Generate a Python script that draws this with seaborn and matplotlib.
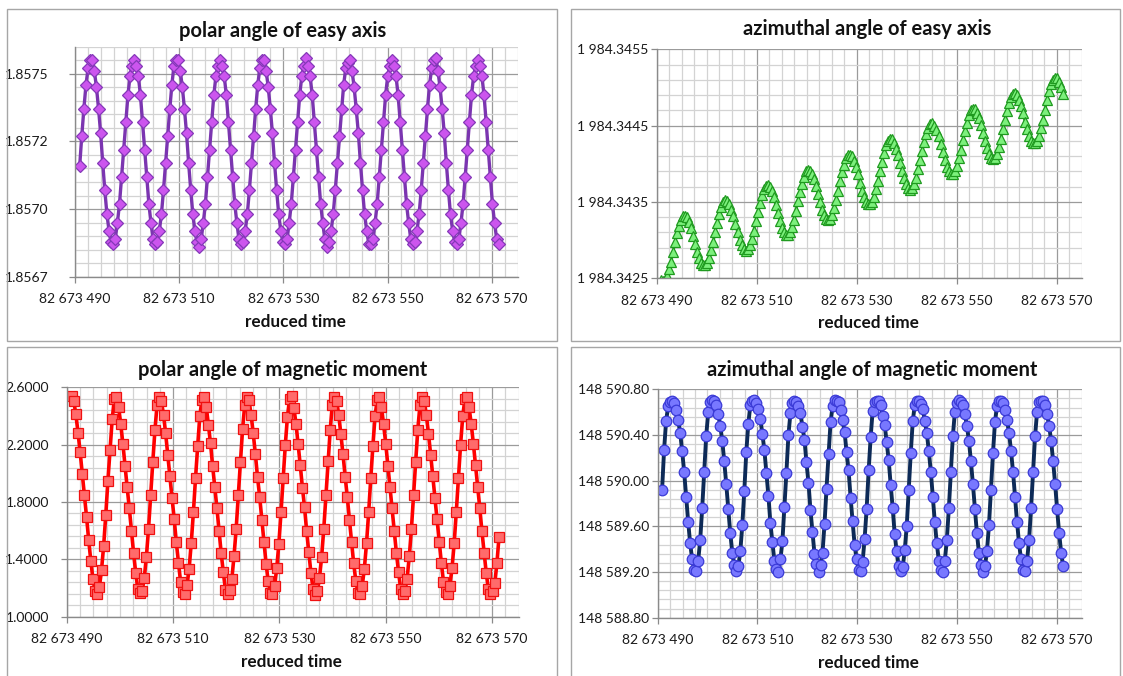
import numpy as np
import matplotlib
matplotlib.use("Agg")
import matplotlib.pyplot as plt
import seaborn as sns
from matplotlib.patches import Rectangle
from matplotlib.ticker import FixedLocator

# 主题与字体
sns.set_theme(style="white")
plt.rcParams['font.family'] = ['Lato', 'DejaVu Sans']

# 时间轴 (reduced time = 82 673 000 + offset)
T0 = 82673000
time_offset = [
    490.90, 491.30, 491.70, 492.11, 492.51, 492.91, 493.31, 493.71, 494.12, 494.52,
    494.92, 495.32, 495.72, 496.13, 496.53, 496.93, 497.33, 497.73, 498.14, 498.54,
    498.94, 499.34, 499.74, 500.15, 500.55, 500.95, 501.35, 501.75, 502.16, 502.56,
    502.96, 503.36, 503.76, 504.17, 504.57, 504.97, 505.37, 505.77, 506.18, 506.58,
    506.98, 507.38, 507.78, 508.19, 508.59, 508.99, 509.39, 509.79, 510.20, 510.60,
    511.00, 511.40, 511.80, 512.21, 512.61, 513.01, 513.41, 513.81, 514.22, 514.62,
    515.02, 515.42, 515.82, 516.23, 516.63, 517.03, 517.43, 517.83, 518.24, 518.64,
    519.04, 519.44, 519.84, 520.25, 520.65, 521.05, 521.45, 521.85, 522.26, 522.66,
    523.06, 523.46, 523.86, 524.27, 524.67, 525.07, 525.47, 525.87, 526.28, 526.68,
    527.08, 527.48, 527.88, 528.29, 528.69, 529.09, 529.49, 529.89, 530.30, 530.70,
    531.10, 531.50, 531.90, 532.31, 532.71, 533.11, 533.51, 533.91, 534.32, 534.72,
    535.12, 535.52, 535.92, 536.33, 536.73, 537.13, 537.53, 537.93, 538.34, 538.74,
    539.14, 539.54, 539.94, 540.35, 540.75, 541.15, 541.55, 541.95, 542.36, 542.76,
    543.16, 543.56, 543.96, 544.37, 544.77, 545.17, 545.57, 545.97, 546.38, 546.78,
    547.18, 547.58, 547.98, 548.39, 548.79, 549.19, 549.59, 549.99, 550.40, 550.80,
    551.20, 551.60, 552.00, 552.41, 552.81, 553.21, 553.61, 554.01, 554.42, 554.82,
    555.22, 555.62, 556.02, 556.43, 556.83, 557.23, 557.63, 558.03, 558.44, 558.84,
    559.24, 559.64, 560.04, 560.45, 560.85, 561.25, 561.65, 562.05, 562.46, 562.86,
    563.26, 563.66, 564.06, 564.47, 564.87, 565.27, 565.67, 566.07, 566.48, 566.88,
    567.28, 567.68, 568.08, 568.49, 568.89, 569.29, 569.69, 570.09, 570.50, 570.90,
    571.30,
]

# polar angle of easy axis
polar_easy = [
    1.85711, 1.85722, 1.85732, 1.85741, 1.85747, 1.85750, 1.85750, 1.85746, 1.85740, 1.85732,
    1.85723, 1.85712, 1.85702, 1.85693, 1.85687, 1.85683, 1.85682, 1.85684, 1.85690, 1.85697,
    1.85707, 1.85717, 1.85727, 1.85737, 1.85744, 1.85748, 1.85750, 1.85748, 1.85744, 1.85737,
    1.85727, 1.85717, 1.85707, 1.85697, 1.85690, 1.85684, 1.85682, 1.85683, 1.85687, 1.85693,
    1.85702,
    1.85712, 1.85722, 1.85732, 1.85741, 1.85748, 1.85750, 1.85750, 1.85746, 1.85740, 1.85732,
    1.85723, 1.85712, 1.85702, 1.85693, 1.85687, 1.85683, 1.85681, 1.85684, 1.85690, 1.85697,
    1.85707, 1.85717, 1.85727, 1.85737, 1.85744, 1.85748, 1.85750, 1.85748, 1.85744, 1.85737,
    1.85727, 1.85717, 1.85707, 1.85697, 1.85690, 1.85684, 1.85682, 1.85683, 1.85687, 1.85693,
    1.85702,
    1.85712, 1.85722, 1.85732, 1.85741, 1.85747, 1.85750, 1.85750, 1.85746, 1.85740, 1.85732,
    1.85723, 1.85712, 1.85702, 1.85693, 1.85687, 1.85683, 1.85682, 1.85684, 1.85690, 1.85697,
    1.85707, 1.85717, 1.85727, 1.85737, 1.85744, 1.85748, 1.85751, 1.85748, 1.85744, 1.85737,
    1.85727, 1.85717, 1.85707, 1.85697, 1.85690, 1.85684, 1.85681, 1.85683, 1.85687, 1.85693,
    1.85702,
    1.85712, 1.85722, 1.85732, 1.85741, 1.85747, 1.85749, 1.85750, 1.85746, 1.85740, 1.85732,
    1.85723, 1.85712, 1.85702, 1.85693, 1.85687, 1.85682, 1.85682, 1.85684, 1.85690, 1.85697,
    1.85707, 1.85717, 1.85727, 1.85737, 1.85744, 1.85748, 1.85750, 1.85748, 1.85744, 1.85737,
    1.85727, 1.85717, 1.85707, 1.85697, 1.85690, 1.85684, 1.85682, 1.85683, 1.85687, 1.85693,
    1.85702,
    1.85712, 1.85722, 1.85732, 1.85741, 1.85747, 1.85750, 1.85751, 1.85746, 1.85740, 1.85732,
    1.85723, 1.85712, 1.85702, 1.85693, 1.85687, 1.85683, 1.85682, 1.85684, 1.85690, 1.85697,
    1.85707, 1.85717, 1.85727, 1.85737, 1.85744, 1.85748, 1.85750, 1.85748, 1.85744, 1.85737,
    1.85727, 1.85717, 1.85707, 1.85697, 1.85690, 1.85684, 1.85682,
]

# azimuthal angle of easy axis
azimuth_easy = [
    1984.34248, 1984.34246, 1984.34248, 1984.34253, 1984.34262, 1984.34272, 1984.34285, 1984.34297, 1984.34309, 1984.34319,
    1984.34327, 1984.34331, 1984.34332, 1984.34330, 1984.34324, 1984.34316, 1984.34306, 1984.34295, 1984.34285, 1984.34276,
    1984.34270, 1984.34267, 1984.34267, 1984.34270, 1984.34277, 1984.34287, 1984.34298, 1984.34311, 1984.34323, 1984.34334,
    1984.34343, 1984.34350, 1984.34352, 1984.34351, 1984.34347, 1984.34340, 1984.34331, 1984.34321, 1984.34310, 1984.34300,
    1984.34293, 1984.34288, 1984.34286, 1984.34288, 1984.34293, 1984.34302, 1984.34312, 1984.34325, 1984.34337, 1984.34349,
    1984.34359, 1984.34367, 1984.34371, 1984.34372, 1984.34370, 1984.34364, 1984.34356, 1984.34346, 1984.34335, 1984.34325,
    1984.34316, 1984.34310, 1984.34307, 1984.34307, 1984.34310, 1984.34317, 1984.34327, 1984.34338, 1984.34351, 1984.34363,
    1984.34374, 1984.34383, 1984.34390, 1984.34392, 1984.34391, 1984.34387, 1984.34380, 1984.34371, 1984.34361, 1984.34350,
    1984.34340, 1984.34333, 1984.34328, 1984.34326, 1984.34328, 1984.34333, 1984.34342, 1984.34352, 1984.34365, 1984.34377,
    1984.34389, 1984.34399, 1984.34407, 1984.34411, 1984.34412, 1984.34410, 1984.34404, 1984.34396, 1984.34386, 1984.34375,
    1984.34365, 1984.34356, 1984.34350, 1984.34347, 1984.34347, 1984.34350, 1984.34357, 1984.34367, 1984.34378, 1984.34391,
    1984.34403, 1984.34414, 1984.34424, 1984.34430, 1984.34432, 1984.34432, 1984.34427, 1984.34420, 1984.34411, 1984.34401,
    1984.34390, 1984.34381, 1984.34373, 1984.34368, 1984.34366, 1984.34368, 1984.34373, 1984.34382, 1984.34393, 1984.34405,
    1984.34417, 1984.34429, 1984.34439, 1984.34447, 1984.34452, 1984.34453, 1984.34450, 1984.34444, 1984.34436, 1984.34426,
    1984.34415, 1984.34405, 1984.34396, 1984.34390, 1984.34387, 1984.34387, 1984.34390, 1984.34397, 1984.34407, 1984.34418,
    1984.34431, 1984.34443, 1984.34454, 1984.34464, 1984.34470, 1984.34472, 1984.34472, 1984.34467, 1984.34460, 1984.34451,
    1984.34441, 1984.34430, 1984.34421, 1984.34413, 1984.34408, 1984.34406, 1984.34408, 1984.34413, 1984.34422, 1984.34433,
    1984.34445, 1984.34457, 1984.34469, 1984.34479, 1984.34487, 1984.34492, 1984.34493, 1984.34490, 1984.34484, 1984.34476,
    1984.34466, 1984.34455, 1984.34445, 1984.34436, 1984.34430, 1984.34427, 1984.34427, 1984.34430, 1984.34437, 1984.34447,
    1984.34458, 1984.34471, 1984.34483, 1984.34495, 1984.34504, 1984.34510, 1984.34512, 1984.34512, 1984.34507, 1984.34500,
    1984.34491,
]

# polar angle of magnetic moment
polar_moment = [
    2.540, 2.507, 2.412, 2.284, 2.147, 1.994, 1.847, 1.698, 1.533, 1.389,
    1.261, 1.181, 1.156, 1.205, 1.326, 1.493, 1.710, 1.947, 2.160, 2.378,
    2.519, 2.535, 2.461, 2.343, 2.206, 2.054, 1.903, 1.759, 1.598, 1.445,
    1.307, 1.191, 1.163, 1.181, 1.268, 1.419, 1.612, 1.849, 2.082, 2.303,
    2.477,
    2.530, 2.503, 2.410, 2.279, 2.128, 1.981, 1.829, 1.682, 1.518, 1.377,
    1.242, 1.170, 1.156, 1.218, 1.335, 1.515, 1.727, 1.970, 2.192, 2.401,
    2.512, 2.534, 2.464, 2.340, 2.209, 2.051, 1.906, 1.756, 1.601, 1.442,
    1.310, 1.188, 1.157, 1.184, 1.265, 1.422, 1.609, 1.852, 2.079, 2.306,
    2.474,
    2.533, 2.508, 2.405, 2.278, 2.133, 1.975, 1.835, 1.676, 1.524, 1.371,
    1.248, 1.166, 1.160, 1.212, 1.341, 1.509, 1.733, 1.964, 2.198, 2.395,
    2.518, 2.536, 2.458, 2.346, 2.203, 2.057, 1.900, 1.762, 1.595, 1.448,
    1.304, 1.194, 1.153, 1.178, 1.271, 1.416, 1.615, 1.846, 2.085, 2.300,
    2.480,
    2.531, 2.505, 2.409, 2.273, 2.134, 1.976, 1.834, 1.677, 1.523, 1.372,
    1.247, 1.167, 1.157, 1.216, 1.336, 1.514, 1.728, 1.969, 2.193, 2.400,
    2.514, 2.533, 2.462, 2.341, 2.207, 2.052, 1.905, 1.757, 1.600, 1.443,
    1.309, 1.190, 1.156, 1.182, 1.266, 1.421, 1.611, 1.850, 2.080, 2.305,
    2.476,
    2.532, 2.507, 2.406, 2.277, 2.130, 1.979, 1.831, 1.680, 1.520, 1.375,
    1.244, 1.169, 1.157, 1.214, 1.339, 1.511, 1.731, 1.966, 2.196, 2.397,
    2.516, 2.535, 2.460, 2.344, 2.205, 2.055, 1.902, 1.758, 1.597, 1.446,
    1.306, 1.192, 1.156, 1.180, 1.232, 1.372, 1.558,
]

# azimuthal angle of magnetic moment
azimuth_moment = [
    148589.92, 148590.27, 148590.52, 148590.65, 148590.69, 148590.70, 148590.68, 148590.62, 148590.53, 148590.42,
    148590.26, 148590.08, 148589.86, 148589.64, 148589.45, 148589.31, 148589.22, 148589.21, 148589.30, 148589.48,
    148589.76, 148590.08, 148590.39, 148590.60, 148590.69, 148590.71, 148590.70, 148590.66, 148590.58, 148590.48,
    148590.35, 148590.17, 148589.97, 148589.75, 148589.54, 148589.37, 148589.26, 148589.21, 148589.25, 148589.38,
    148589.61,
    148589.91, 148590.25, 148590.50, 148590.66, 148590.70, 148590.71, 148590.68, 148590.63, 148590.54, 148590.41,
    148590.27, 148590.07, 148589.87, 148589.63, 148589.46, 148589.30, 148589.23, 148589.20, 148589.31, 148589.47,
    148589.77, 148590.07, 148590.40, 148590.59, 148590.68, 148590.70, 148590.69, 148590.65, 148590.59, 148590.47,
    148590.36, 148590.16, 148589.98, 148589.74, 148589.55, 148589.36, 148589.27, 148589.20, 148589.26, 148589.37,
    148589.62,
    148589.93, 148590.23, 148590.51, 148590.65, 148590.71, 148590.70, 148590.69, 148590.62, 148590.53, 148590.43,
    148590.25, 148590.09, 148589.85, 148589.65, 148589.44, 148589.31, 148589.22, 148589.21, 148589.29, 148589.49,
    148589.75, 148590.09, 148590.38, 148590.61, 148590.69, 148590.70, 148590.70, 148590.66, 148590.57, 148590.49,
    148590.34, 148590.18, 148589.96, 148589.76, 148589.53, 148589.38, 148589.25, 148589.21, 148589.24, 148589.39,
    148589.60,
    148589.92, 148590.24, 148590.52, 148590.66, 148590.70, 148590.70, 148590.67, 148590.63, 148590.52, 148590.42,
    148590.26, 148590.08, 148589.86, 148589.64, 148589.45, 148589.30, 148589.22, 148589.20, 148589.30, 148589.48,
    148589.76, 148590.08, 148590.39, 148590.60, 148590.68, 148590.71, 148590.69, 148590.66, 148590.58, 148590.48,
    148590.35, 148590.17, 148589.97, 148589.75, 148589.54, 148589.37, 148589.26, 148589.20, 148589.25, 148589.38,
    148589.61,
    148589.92, 148590.24, 148590.51, 148590.65, 148590.70, 148590.70, 148590.68, 148590.62, 148590.53, 148590.42,
    148590.26, 148590.08, 148589.86, 148589.64, 148589.45, 148589.31, 148589.22, 148589.21, 148589.30, 148589.48,
    148589.76, 148590.08, 148590.39, 148590.60, 148590.69, 148590.70, 148590.70, 148590.66, 148590.58, 148590.48,
    148590.35, 148590.17, 148589.97, 148589.75, 148589.54, 148589.37, 148589.25,
]

# 刻度
x_ticks = [82673490, 82673510, 82673530, 82673550, 82673570]
x_tick_labels = ["82 673 490", "82 673 510", "82 673 530", "82 673 550", "82 673 570"]

polar_easy_ticks = [1.8567, 1.85695, 1.8572, 1.85745]
polar_easy_labels = ["1.8567", "1.8570", "1.8572", "1.8575"]
azimuth_easy_ticks = [1984.3425, 1984.3435, 1984.3445, 1984.3455]
azimuth_easy_labels = ["1 984.3425", "1 984.3435", "1 984.3445", "1 984.3455"]
polar_moment_ticks = [1.0, 1.4, 1.8, 2.2, 2.6]
polar_moment_labels = ["1.0000", "1.4000", "1.8000", "2.2000", "2.6000"]
azimuth_moment_ticks = [148588.8, 148589.2, 148589.6, 148590.0, 148590.4, 148590.8]
azimuth_moment_labels = ["148 588.80", "148 589.20", "148 589.60", "148 590.00", "148 590.40", "148 590.80"]

reduced_time = T0 + np.array(time_offset)

W, H = 1123, 676
fig = plt.figure(figsize=(W / 100, H / 100), dpi=100)


def px_rect(left, top, right, bottom):
    return [left / W, 1 - bottom / H, (right - left) / W, (bottom - top) / H]


def fx(x):
    return x / W


def fy(y):
    return 1 - y / H


# 图框
for l, t, r, b in [(7, 9, 557, 341), (571, 9, 1120, 341), (7, 347, 557, 690), (571, 347, 1120, 690)]:
    fig.add_artist(Rectangle((l / W, 1 - b / H), (r - l) / W, (b - t) / H,
                             transform=fig.transFigure, fill=False,
                             edgecolor='#a6a6a6', lw=1.0, clip_on=False))


def panel(rect, y, ylim, n_minor, yticks, ylabels, ypad, line_color, marker, ms, face, edge, lw):
    ax = fig.add_axes(rect)
    sns.lineplot(x=reduced_time, y=y, ax=ax, color=line_color, lw=lw, marker=marker,
                 markersize=ms, markerfacecolor=face, markeredgecolor=edge,
                 markeredgewidth=0.9, estimator=None, sort=False)
    ax.set_xlim(82673490, 82673575)
    ax.set_ylim(*ylim)
    ax.set_xticks(x_ticks, x_tick_labels)
    ax.set_yticks(yticks, ylabels)
    ax.xaxis.set_minor_locator(FixedLocator(np.arange(82673490, 82673575.1, 2.5)))
    ax.yaxis.set_minor_locator(FixedLocator(np.linspace(ylim[0], ylim[1], n_minor + 1)))
    ax.grid(which='minor', color='#d3d3d3', lw=0.9)
    ax.grid(which='major', color='#9b9b9b', lw=0.9)
    ax.set_axisbelow(True)
    for s in ['top', 'right']:
        ax.spines[s].set_visible(False)
    for s in ['left', 'bottom']:
        ax.spines[s].set_color('#8a8a8a')
        ax.spines[s].set_linewidth(1.0)
    ax.tick_params(which='major', bottom=True, left=True, length=4, width=0.9,
                   color='#8a8a8a', labelsize=10, labelcolor='#1a1a1a')
    ax.tick_params(axis='x', which='major', pad=8)
    ax.tick_params(axis='y', which='major', pad=ypad)
    ax.tick_params(which='minor', length=0)
    ax.set_xlabel('')
    ax.set_ylabel('')
    return ax


# 四个面板
panel(px_rect(75, 46.7, 518, 276.7), polar_easy, (1.8567, 1.85755), 17,
      polar_easy_ticks, polar_easy_labels, 15,
      '#7b35b0', 'D', 6.4, '#cc55ee', '#8438b8', 2.4)
panel(px_rect(656.6, 49.3, 1081.6, 278.3), azimuth_easy, (1984.3425, 1984.3455), 15,
      azimuth_easy_ticks, azimuth_easy_labels, 2,
      '#2e9e2e', '^', 7.2, '#7cf07c', '#1f9a1f', 1.8)
panel(px_rect(66.8, 387.3, 518.7, 616.7), polar_moment, (1.0, 2.6), 20,
      polar_moment_ticks, polar_moment_labels, 9,
      '#ff0000', 's', 6.8, '#ff6b6b', '#f01010', 2.6)
panel(px_rect(657.6, 389.3, 1081.6, 617.7), azimuth_moment, (148588.8, 148590.8), 25,
      azimuth_moment_ticks, azimuth_moment_labels, 2,
      '#0d2a57', 'o', 7.6, '#7878ff', '#3a3ad6', 2.8)

# 标题与坐标轴标题
titles = ["polar angle of easy axis", "azimuthal angle of easy axis",
          "polar angle of magnetic moment", "azimuthal angle of magnetic moment"]
title_pos = [(283, 31), (867, 29), (283, 370), (872, 370)]
xlabel_pos = [(295, 322), (868, 323), (291, 662), (868, 663)]
for text, (tx, ty), (lx, ly) in zip(titles, title_pos, xlabel_pos):
    fig.text(fx(tx), fy(ty), text, ha='center', va='center', fontsize=14.5,
             fontweight='bold', color='#111111')
    fig.text(fx(lx), fy(ly), 'reduced time', ha='center', va='center', fontsize=12.3,
             fontweight='bold', color='#111111')

fig.savefig('out.png', dpi=100, facecolor='white')
